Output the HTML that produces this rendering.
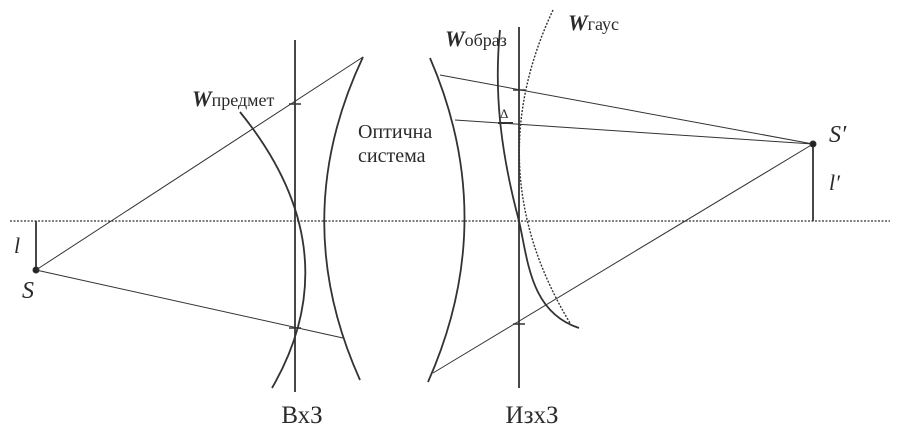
<!DOCTYPE html>
<html><head><meta charset="utf-8"><style>
html,body{margin:0;padding:0;background:#fff;width:900px;height:438px;overflow:hidden}
text{font-family:"Liberation Serif",serif;fill:#2a2a2a}
</style></head><body>
<svg width="900" height="438" viewBox="0 0 900 438" xmlns="http://www.w3.org/2000/svg">
<g stroke="#333" fill="none">
<line x1="10" y1="221" x2="890" y2="221" stroke-width="1.2" stroke-dasharray="2,1.5"/>
<line x1="36" y1="221" x2="36" y2="270" stroke-width="1.8"/>
<circle cx="36" cy="270" r="3" fill="#222"/>
<line x1="295" y1="40" x2="295" y2="392" stroke-width="1.8"/>
<line x1="289" y1="104" x2="301" y2="104" stroke-width="1.5"/>
<line x1="289" y1="328" x2="301" y2="328" stroke-width="1.5"/>
<line x1="36" y1="270" x2="363" y2="57" stroke-width="1"/>
<line x1="36" y1="270" x2="343" y2="338" stroke-width="1"/>
<path d="M240,112 Q352,250 272,388" stroke-width="1.8"/>
<path d="M363,57 Q287,218 360,380" stroke-width="1.8"/>
<path d="M430,58 Q500,220 428,382" stroke-width="1.8"/>
<line x1="519" y1="27" x2="519" y2="388" stroke-width="1.8"/>
<line x1="513" y1="90" x2="525" y2="90" stroke-width="1.5"/>
<line x1="513" y1="324" x2="525" y2="324" stroke-width="1.5"/>
<line x1="440" y1="75" x2="813" y2="144" stroke-width="1"/>
<line x1="455" y1="120" x2="813" y2="144" stroke-width="1"/>
<line x1="433" y1="373" x2="813" y2="144" stroke-width="1"/>
<line x1="813" y1="144" x2="813" y2="221" stroke-width="1.8"/>
<circle cx="813" cy="144" r="3" fill="#222"/>
<path d="M500,30 C494,90 500,150 519,221 C528,260 530,312 579,328" stroke-width="1.8"/>
<path d="M553,10 Q478,170 570,323" stroke-width="1.4" stroke-dasharray="2,1.5"/>
<line x1="498" y1="123" x2="513" y2="123" stroke-width="2"/>
</g>
<text x="14" y="253" font-size="22" font-style="italic">l</text>
<text x="22" y="298" font-size="24" font-style="italic">S</text>
<text x="829" y="142" font-size="24" font-style="italic">S′</text>
<text x="829" y="190" font-size="22" font-style="italic">l′</text>
<text x="192" y="106"><tspan font-size="22" font-weight="bold" font-style="italic">W</tspan><tspan font-size="18">предмет</tspan></text>
<text x="445" y="46"><tspan font-size="22" font-weight="bold" font-style="italic">W</tspan><tspan font-size="18">образ</tspan></text>
<text x="568" y="30"><tspan font-size="22" font-weight="bold" font-style="italic">W</tspan><tspan font-size="18">гаус</tspan></text>
<text x="500" y="118" font-size="13">Δ</text>
<text x="358" y="138" font-size="20">Оптична</text>
<text x="358" y="162" font-size="20">система</text>
<text x="302" y="423" font-size="25" text-anchor="middle">ВхЗ</text>
<text x="532" y="423" font-size="25" text-anchor="middle">ИзхЗ</text>
</svg>
</body></html>
